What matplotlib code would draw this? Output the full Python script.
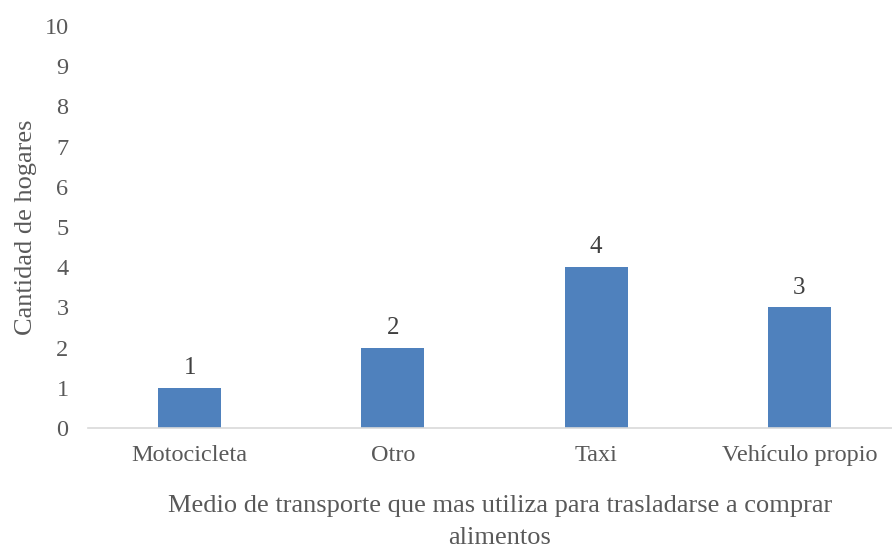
import matplotlib.pyplot as plt
import numpy as np

plt.rcParams['font.family'] = ['Liberation Serif', 'DejaVu Serif']

categorias = ["Motocicleta", "Otro", "Taxi", "Vehículo propio"]
hogares = [1, 2, 4, 3]
yticks = list(range(0, 11))

gris = "#595959"
azul = "#4F81BD"

fig = plt.figure(figsize=(8.92, 5.49), dpi=100)
# axes spans a bit past the right edge, like the original crop
ax = fig.add_axes([88 / 892, 1 - 428 / 549, 813 / 892, (428 - 26) / 549])

x = np.arange(len(categorias))
bars = ax.bar(x, hogares, width=0.31, color=azul, zorder=2)
for b, v in zip(bars, hogares):
    ax.text(b.get_x() + b.get_width() / 2, v + 0.22, str(v), ha="center", va="bottom",
            fontsize=18, color="#404040")

ax.set_xlim(-0.5, len(categorias) - 0.5)
ax.set_ylim(0, 10)
ax.set_yticks(yticks)
ax.set_xticks(x)
ax.set_xticklabels(categorias)
ax.tick_params(axis="both", length=0, labelsize=17.5, colors=gris)
ax.tick_params(axis="x", pad=12)
ax.tick_params(axis="y", pad=14)

for s in ["top", "right", "left"]:
    ax.spines[s].set_visible(False)
ax.spines["bottom"].set_color("#D9D9D9")
ax.spines["bottom"].set_linewidth(1.2)

ax.set_ylabel("Cantidad de hogares", fontsize=19, color=gris, labelpad=5)
fig.text(500 / 892, 1 - 522 / 549,
         "Medio de transporte que mas utiliza para trasladarse a comprar\nalimentos",
         ha="center", va="center", fontsize=19, color=gris, linespacing=1.6)

fig.savefig("out.png", dpi=100)
